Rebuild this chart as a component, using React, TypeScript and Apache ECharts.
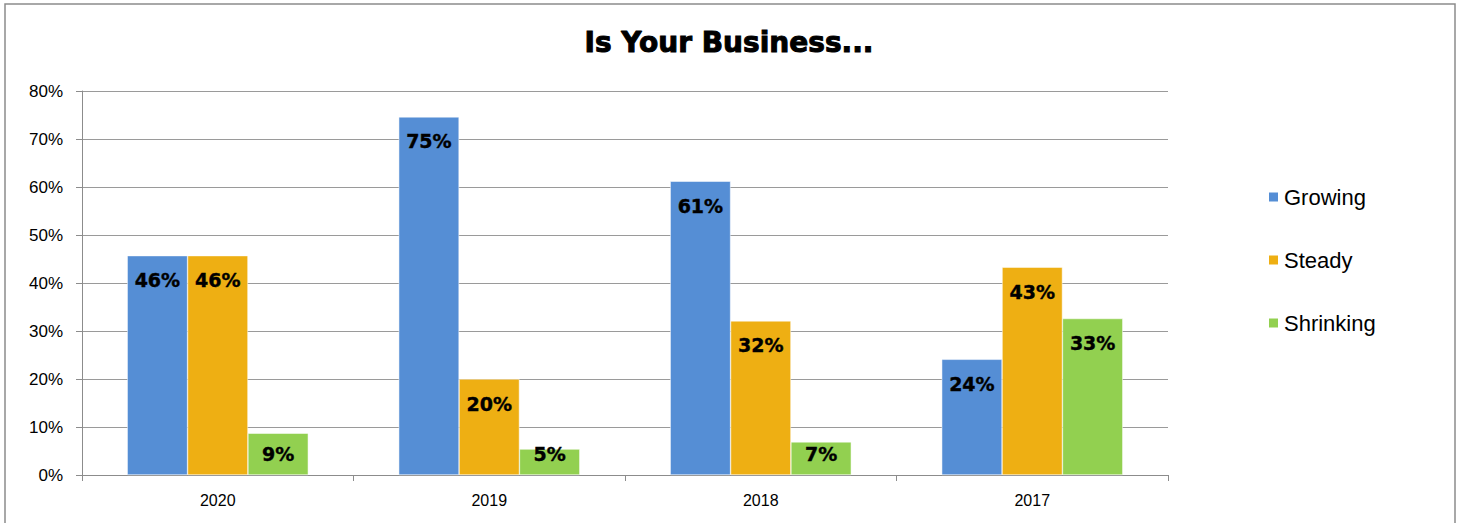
import React, { useEffect, useRef } from "react";
import * as echarts from "echarts";

const categories = ["2020", "2019", "2018", "2017"];
const growing = [45.7, 74.6, 61.2, 24.1];
const steady = [45.7, 20.0, 32.1, 43.3];
const shrinking = [8.7, 5.4, 6.9, 32.6];
const seriesNames = ["Growing", "Steady", "Shrinking"];
const colors = ["#558ED5", "#EEAF13", "#92D050"];
const titleText = "Is Your Business...";

export default function App() {
  const ref = useRef<HTMLDivElement>(null);
  useEffect(() => {
    if (!ref.current) return;
    const chart = echarts.init(ref.current, null, { renderer: "svg" });
    const label = {
      show: true,
      position: "insideTop",
      distance: 15,
      formatter: (p: any) => Math.round(p.value) + "%",
      color: "#000",
      fontFamily: "DejaVu Sans",
      fontWeight: 900,
      fontSize: 19,
      textBorderColor: "#000",
      textBorderWidth: 0.4,
    };
    const data = [growing, steady, shrinking];
    chart.setOption({
      animation: false,
      backgroundColor: "#fff",
      title: {
        text: titleText,
        left: "center",
        top: 23,
        textStyle: {
          fontFamily: "DejaVu Sans",
          fontWeight: 900,
          fontSize: 28,
          color: "#000",
          textBorderColor: "#000",
          textBorderWidth: 1,
        },
      },
      graphic: [
        {
          type: "rect",
          shape: { x: 5, y: 4, width: 1450, height: 540 },
          style: { fill: "none", stroke: "#8c8c8c", lineWidth: 1.5 },
          silent: true,
        },
      ],
      legend: {
        orient: "vertical",
        left: 1262,
        top: 181,
        itemWidth: 11,
        itemHeight: 11,
        itemGap: 41,
        icon: "rect",
        textStyle: { fontFamily: "Liberation Sans", fontSize: 22, color: "#000" },
        data: seriesNames,
      },
      grid: { left: 82, top: 91, right: 290, bottom: 48, containLabel: false },
      xAxis: {
        type: "category",
        data: categories,
        axisLine: { lineStyle: { color: "#8c8c8c", width: 1 } },
        axisTick: { show: true, length: 6, lineStyle: { color: "#8c8c8c" } },
        axisLabel: { fontFamily: "Liberation Sans", fontSize: 16, color: "#000", margin: 17 },
      },
      yAxis: {
        type: "value",
        min: 0,
        max: 80,
        interval: 10,
        axisLine: { show: true, lineStyle: { color: "#8c8c8c", width: 1 } },
        axisTick: { show: true, length: 6, lineStyle: { color: "#8c8c8c" } },
        axisLabel: {
          formatter: "{value}%",
          fontFamily: "Liberation Sans",
          fontSize: 17,
          color: "#000",
          margin: 19,
        },
        splitLine: { show: true, lineStyle: { color: "#9a9a9a", width: 1 } },
      },
      series: seriesNames.map((name, i) => ({
        name,
        type: "bar",
        data: data[i].map((v) =>
          v < 10
            ? { value: v, label: { position: "insideBottom", distance: 12 } }
            : v
        ),
        barGap: "0%",
        barCategoryGap: "33.3%",
        itemStyle: { color: colors[i], borderColor: "#ffffff", borderWidth: 0.5 },
        label,
      })),
    });
    return () => chart.dispose();
  }, []);
  return (
    <div
      ref={ref}
      style={{ position: "fixed", left: 0, top: 0, width: 1458, height: 523 }}
    />
  );
}
